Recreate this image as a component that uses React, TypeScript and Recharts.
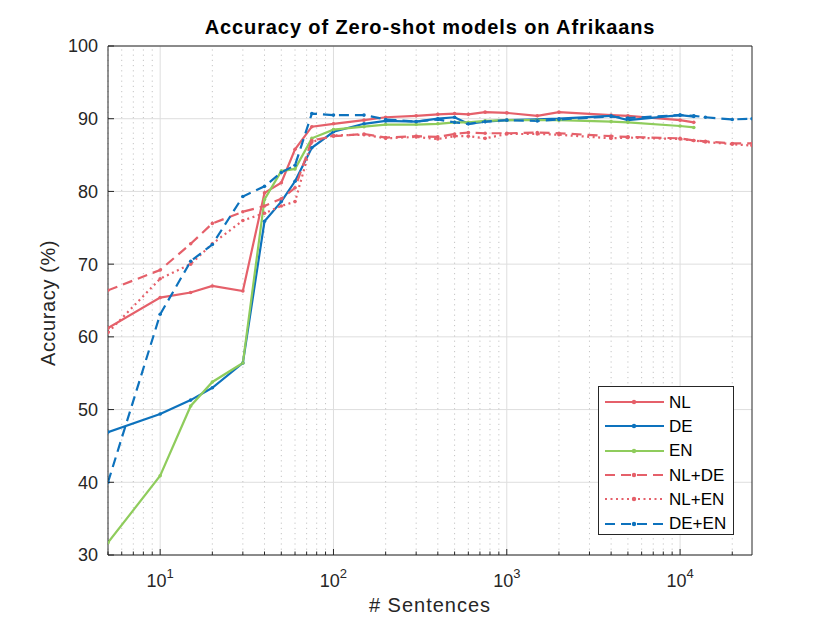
import React from "react";
import { LineChart, Line, XAxis, YAxis, CartesianGrid, ReferenceLine, Legend } from "recharts";

// number of training sentences (x, log scale)
const sentences = [5, 10, 15, 20, 30, 40, 50, 60, 75, 100, 150, 200, 300, 400, 500, 600, 750, 1000, 1500, 2000, 4000, 5000, 10000, 12000, 14000, 20000, 26000];

const nl = [61.2, 65.4, 66.1, 67.0, 66.3, 79.8, 81.2, 85.8, 88.9, 89.3, 89.8, 90.2, 90.4, 90.6, 90.7, 90.6, 90.9, 90.8, 90.4, 90.9, 90.5, 90.4, 89.8, 89.5, null, null, null];
const de = [46.9, 49.4, 51.3, 53.0, 56.4, 75.9, 78.6, 81.4, 86.0, 88.2, 89.3, 89.7, 89.6, 90.0, 90.2, 89.3, 89.6, 89.8, 89.9, 90.0, 90.4, 89.8, 90.5, 90.3, null, null, null];
const en = [31.7, 40.9, 50.5, 53.8, 56.4, 78.9, 82.8, 83.1, 87.3, 88.5, 88.9, 89.2, 89.2, 89.3, 89.5, 89.5, 89.7, 89.8, 89.8, 89.8, 89.6, 89.5, 89.0, 88.8, null, null, null];
const nlDe = [66.4, 69.2, 72.8, 75.6, 77.2, 78.0, 79.0, 80.5, 87.0, 87.6, 87.9, 87.4, 87.6, 87.5, 87.9, 88.1, 88.0, 88.0, 88.1, 88.0, 87.6, 87.5, 87.3, 87.0, 86.9, 86.6, 86.6];
const nlEn = [60.6, 68.0, 70.0, 72.8, 76.0, 77.0, 78.0, 78.6, 86.8, 87.7, 87.8, 87.3, 87.5, 87.2, 87.6, 87.6, 87.3, 87.9, 87.9, 87.8, 87.3, 87.4, 87.2, 87.0, 86.8, 86.5, 86.3];
const deEn = [40.0, 63.1, 70.4, 72.7, 79.3, 80.7, 82.6, 83.6, 90.7, 90.5, 90.5, 89.9, 89.6, 89.9, 89.5, 89.3, 89.6, 89.8, 89.7, 89.9, 90.3, 90.1, 90.5, 90.4, 90.2, 89.9, 90.0];

const yTicks = [30, 40, 50, 60, 70, 80, 90, 100];
const majorX = [10, 100, 1000, 10000];
const minorX = [5, 6, 7, 8, 9, 20, 30, 40, 50, 60, 70, 80, 90, 200, 300, 400, 500, 600, 700, 800, 900, 2000, 3000, 4000, 5000, 6000, 7000, 8000, 9000, 20000];
const xTicks = [...minorX, ...majorX].sort((a, b) => a - b);

const RED = "#e5606a";
const BLUE = "#0d72bd";
const GREEN = "#8fcc5c";
const AXIS = "#262626";
const FONT = "'Liberation Sans', Arial, sans-serif";

const seriesList = [
  { key: "NL", values: nl, color: RED, dash: undefined },
  { key: "DE", values: de, color: BLUE, dash: undefined },
  { key: "EN", values: en, color: GREEN, dash: undefined },
  { key: "NL+DE", values: nlDe, color: RED, dash: "10 6" },
  { key: "NL+EN", values: nlEn, color: RED, dash: "2 3.5" },
  { key: "DE+EN", values: deEn, color: BLUE, dash: "10 6" },
];

const data = sentences.map((x, i) => {
  const row: Record<string, number | null> = { x };
  seriesList.forEach((s) => (row[s.key] = s.values[i]));
  return row;
});

const isMajor = (v: number) => majorX.includes(v);

const BottomTick = ({ x, y, payload }: any) => {
  const v = payload.value;
  const major = isMajor(v);
  return (
    <g>
      <line x1={x} x2={x} y1={y} y2={y - (major ? 6 : 3.5)} stroke={AXIS} />
      {major && (
        <text x={x} y={y + 32} textAnchor="middle" fontSize={18} fontFamily={FONT} fill={AXIS}>
          10<tspan dy={-9} fontSize={13}>{Math.round(Math.log10(v))}</tspan>
        </text>
      )}
    </g>
  );
};

const TopTick = ({ x, y, payload }: any) => (
  <line x1={x} x2={x} y1={y} y2={y + (isMajor(payload.value) ? 6 : 3.5)} stroke={AXIS} />
);

const LeftTick = ({ x, y, payload }: any) => (
  <g>
    <line x1={x} x2={x + 6} y1={y} y2={y} stroke={AXIS} />
    <text x={x - 10} y={y} dy="0.36em" textAnchor="end" fontSize={18} fontFamily={FONT} fill={AXIS}>
      {payload.value}
    </text>
  </g>
);

const RightTick = ({ x, y }: any) => <line x1={x} x2={x - 6} y1={y} y2={y} stroke={AXIS} />;

const LegendBox = () => (
  <div
    style={{
      width: 136,
      height: 149,
      border: `1px solid ${AXIS}`,
      background: "#fff",
      boxSizing: "border-box",
      fontFamily: FONT,
      fontSize: 17,
      color: "#000",
      paddingTop: 3,
    }}
  >
    {seriesList.map((s) => (
      <div key={s.key} style={{ display: "flex", alignItems: "center", height: 24.3 }}>
        <svg width={70} height={10} style={{ flex: "none" }}>
          <line x1={6} x2={65} y1={5} y2={5} stroke={s.color} strokeWidth={2.2} strokeDasharray={s.dash} />
          <circle cx={35} cy={5} r={2.2} fill={s.color} />
        </svg>
        <span style={{ lineHeight: 1 }}>{s.key}</span>
      </div>
    ))}
  </div>
);

export default function App() {
  return (
    <div style={{ margin: -8, position: "relative", width: 830, height: 623, background: "#fff", overflow: "hidden" }}>
      <LineChart width={830} height={623} data={data} margin={{ top: 36, right: 68, left: 68, bottom: 28 }}>
        <CartesianGrid vertical={false} stroke="#dedede" strokeWidth={1} />
        {minorX.map((v) => (
          <ReferenceLine key={`m${v}`} x={v} stroke="#c4c4c4" strokeDasharray="1.2 4" />
        ))}
        {majorX.map((v) => (
          <ReferenceLine key={`M${v}`} x={v} stroke="#dedede" />
        ))}
        <XAxis
          dataKey="x"
          type="number"
          scale="log"
          domain={[5, 26000]}
          allowDataOverflow
          ticks={xTicks}
          interval={0}
          tick={<BottomTick />}
          tickLine={false}
          tickSize={0}
          tickMargin={0}
          height={40}
          stroke={AXIS}
        />
        <XAxis
          xAxisId="top"
          orientation="top"
          type="number"
          scale="log"
          domain={[5, 26000]}
          allowDataOverflow
          ticks={xTicks}
          interval={0}
          tick={<TopTick />}
          tickLine={false}
          tickSize={0}
          tickMargin={0}
          height={10}
          stroke={AXIS}
        />
        <YAxis
          type="number"
          domain={[30, 100]}
          ticks={yTicks}
          interval={0}
          tick={<LeftTick />}
          tickLine={false}
          tickSize={0}
          tickMargin={0}
          width={40}
          stroke={AXIS}
        />
        <YAxis
          yAxisId="right"
          orientation="right"
          type="number"
          domain={[30, 100]}
          ticks={yTicks}
          interval={0}
          tick={<RightTick />}
          tickLine={false}
          tickSize={0}
          tickMargin={0}
          width={10}
          stroke={AXIS}
        />
        {seriesList.map((s) => (
          <Line
            key={s.key}
            dataKey={s.key}
            type="linear"
            stroke={s.color}
            strokeWidth={2.2}
            strokeDasharray={s.dash}
            dot={{ r: 1.8, fill: s.color, strokeWidth: 0 }}
            activeDot={false}
            isAnimationActive={false}
          />
        ))}
        <Legend
          layout="vertical"
          align="center"
          verticalAlign="middle"
          content={<LegendBox />}
          wrapperStyle={{ position: "absolute", left: 598, top: 386, width: 136, height: 149 }}
        />
      </LineChart>
      <div
        style={{
          position: "absolute",
          left: 0,
          width: 860,
          top: 16,
          textAlign: "center",
          fontFamily: FONT,
          fontWeight: "bold",
          fontSize: 20,
          letterSpacing: 0.9,
          color: "#000",
        }}
      >
        Accuracy of Zero-shot models on Afrikaans
      </div>
      <div
        style={{
          position: "absolute",
          left: 0,
          width: 860,
          top: 594,
          textAlign: "center",
          fontFamily: FONT,
          fontSize: 20,
          letterSpacing: 1,
          color: AXIS,
        }}
      >
        # Sentences
      </div>
      <div
        style={{
          position: "absolute",
          left: 48,
          top: 303,
          transform: "translate(-50%, -50%) rotate(-90deg)",
          whiteSpace: "nowrap",
          fontFamily: FONT,
          fontSize: 20,
          letterSpacing: 0.6,
          color: AXIS,
        }}
      >
        Accuracy (%)
      </div>
    </div>
  );
}
